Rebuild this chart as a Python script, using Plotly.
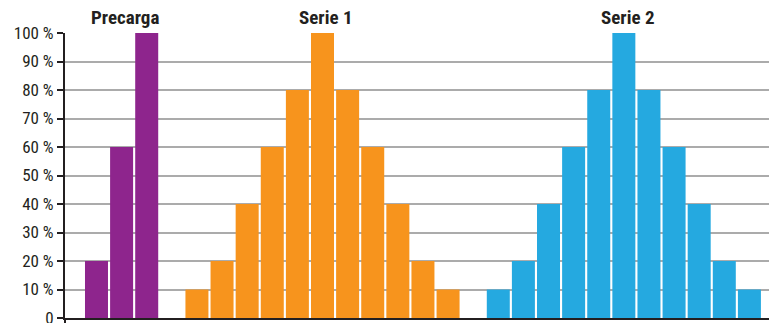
import plotly.graph_objects as go

groups = ["Precarga", "Serie 1", "Serie 2"]
precarga = [20, 60, 100]
serie1 = [10, 20, 40, 60, 80, 100, 80, 60, 40, 20, 10]
serie2 = [10, 20, 40, 60, 80, 100, 80, 60, 40, 20, 10]
colors = ["#8E258D", "#F7941D", "#25A9E0"]
y_ticks = [0, 10, 20, 30, 40, 50, 60, 70, 80, 90, 100]
y_labels = ["0"] + [f"{v} %" for v in y_ticks[1:]]

font_family = "Liberation Sans Narrow, Arial Narrow, Roboto Condensed, Liberation Sans, sans-serif"

fig = go.Figure()
start = 0
annotations = []
for name, vals, col in zip(groups, [precarga, serie1, serie2], colors):
    xs = list(range(start, start + len(vals)))
    fig.add_trace(go.Bar(x=xs, y=vals, marker=dict(color=col, line=dict(width=0)),
                         name=name, showlegend=False))
    annotations.append(dict(x=(xs[0] + xs[-1]) / 2 + 0.15, y=1, xref="x", yref="paper",
                            text=f"<b>{name}</b>", showarrow=False, yanchor="middle",
                            yshift=16, font=dict(size=19, color="#231F20", family=font_family)))
    start += len(vals) + 1

x_range = [-1.254, 26.78]

fig.update_layout(
    width=770, height=323,
    margin=dict(l=65, r=1, t=33, b=5, autoexpand=False),
    paper_bgcolor="white", plot_bgcolor="white",
    bargap=0.084,
    annotations=annotations,
    font=dict(family=font_family, color="#231F20"),
    xaxis=dict(range=x_range, showticklabels=False, showgrid=False, zeroline=False,
               automargin=False,
               showline=True, linecolor="#231F20", linewidth=2,
               tickvals=[x_range[0]], ticks="outside", ticklen=6, tickwidth=2,
               tickcolor="#231F20"),
    yaxis=dict(range=[0, 100], tickvals=y_ticks, ticktext=y_labels,
               automargin=False,
               tickfont=dict(size=17, color="#231F20"),
               ticklabeloverflow="allow",
               showgrid=True, gridcolor="#ABABAB", gridwidth=1.5,
               showline=True, linecolor="#231F20", linewidth=2,
               ticks="outside", ticklen=6, tickwidth=2, tickcolor="#231F20",
               zeroline=False),
)

fig.write_html("out.html")
